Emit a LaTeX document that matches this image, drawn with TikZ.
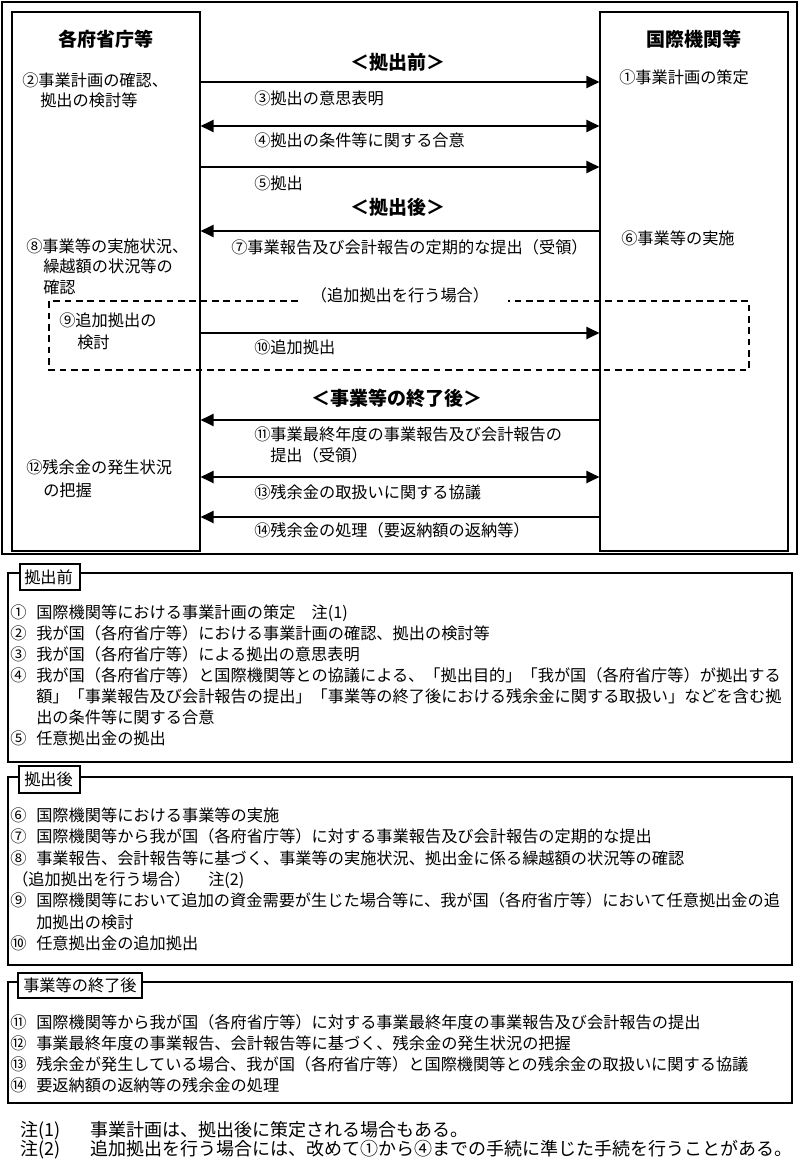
\documentclass[tikz,border=0pt]{standalone}
\usepackage{fontspec}
\setmainfont{Noto Sans CJK JP}
\usetikzlibrary{arrows.meta,fit}
\newcommand\fsz[1]{\fontsize{#1}{#1}\selectfont}
\newcommand\nb[1]{\makebox[19.5pt][l]{#1}}
\newcommand\cn[1]{\makebox[1em][c]{#1}}
\begin{document}
\begin{tikzpicture}[x=0.75pt,y=-0.75pt,
  txt/.style={inner sep=0pt, anchor=west, font=\fsz{12.15pt}, text height=10.7pt, text depth=1.45pt},
  ctxt/.style={inner sep=0pt, font=\fsz{12.15pt}, text height=10.7pt, text depth=1.45pt},
  head/.style={inner sep=0pt, font=\fsz{14.25pt}\bfseries, text height=12.5pt, text depth=1.75pt},
  note/.style={inner sep=0pt, anchor=west, font=\fsz{13.5pt}, text height=11.9pt, text depth=1.6pt},
  col/.style={draw, line width=0.8pt, inner sep=0pt},
  sect/.style={draw, line width=1.5pt, inner sep=0pt},
  tabbox/.style={draw, line width=1.5pt, fill=white, inner sep=0pt},
  arr/.style={line width=1.5pt, -{Triangle[length=9.75pt,width=9pt]}},
  darr/.style={line width=1.5pt, {Triangle[length=9.75pt,width=9pt]}-{Triangle[length=9.75pt,width=9pt]}},
  dashbox/.style={line width=1.2pt, dash pattern=on 5pt off 3.5pt},
]
\useasboundingbox (0,0) rectangle (800,1162);
% ---------- upper diagram ----------
\node[draw, line width=1.6pt, inner sep=0pt, fit={(2,2)(797,554)}] (frame) {};
\node[col, fit={(12,12)(200,551)}] (L) {};
\node[col, fit={(600,12)(788,551)}] (R) {};
\node[head] (hL) at (106,39) {各府省庁等};
\node[head] (hR) at (694,39) {国際機関等};
\node[head] (p1) at (398,62) {＜拠出前＞};
\node[head] (p2) at (398,207) {＜拠出後＞};
\node[head] (p3) at (397,398) {＜事業等の終了後＞};
% arrows
\draw[arr]  (L.east |- 0,82)  -- (R.west |- 0,82);
\draw[darr] (L.east |- 0,126) -- (R.west |- 0,126);
\draw[arr]  (L.east |- 0,167) -- (R.west |- 0,167);
\draw[arr]  (R.west |- 0,231) -- (L.east |- 0,231);
\draw[arr]  (L.east |- 0,333) -- (R.west |- 0,333);
\draw[arr]  (R.west |- 0,420) -- (L.east |- 0,420);
\draw[darr] (L.east |- 0,477) -- (R.west |- 0,477);
\draw[arr]  (R.west |- 0,517) -- (L.east |- 0,517);
% labels
\node[txt] (l2a) at (22,80) {\cn{②}事業計画の確認、};
\node[txt] (l2b) at (40,100) {拠出の検討等};
\node[txt] (l1) at (619,77) {\cn{①}事業計画の策定};
\node[txt] (l3) at (254,98) {\cn{③}拠出の意思表明};
\node[txt] (l4) at (254,140) {\cn{④}拠出の条件等に関する合意};
\node[txt] (l5) at (254,183) {\cn{⑤}拠出};
\node[txt] (l7) at (231,247) {\cn{⑦}事業報告及び会計報告の定期的な提出（受領）};
\node[txt] (l6) at (621,238) {\cn{⑥}事業等の実施};
\node[txt] (l8a) at (26,246) {\cn{⑧}事業等の実施状況、};
\node[txt] (l8b) at (43,266) {繰越額の状況等の};
\node[txt] (l8c) at (43,287) {確認};
\node[ctxt] (ladd) at (400,295) {（追加拠出を行う場合）};
\draw[dashbox] (298,301) -- (49,301) -- (49,370) -- (749,370) -- (749,301) -- (508,301);
\node[txt] (l9a) at (59,320) {\cn{⑨}追加拠出の};
\node[txt] (l9b) at (77,342) {検討};
\node[txt] (l10) at (254,347) {\cn{⑩}追加拠出};
\node[txt] (l11a) at (254,434) {\cn{⑪}事業最終年度の事業報告及び会計報告の};
\node[txt] (l11b) at (270,455) {提出（受領）};
\node[txt] (l12a) at (26,467) {\cn{⑫}残余金の発生状況};
\node[txt] (l12b) at (43,490) {の把握};
\node[txt] (l13) at (254,492) {\cn{⑬}残余金の取扱いに関する協議};
\node[txt] (l14) at (254,530) {\cn{⑭}残余金の処理（要返納額の返納等）};
% ---------- section 1 ----------
\node[sect, fit={(8,573)(792,762)}] (S1) {};
\node[tabbox, fit={(20,564)(80,590)}] (T1) {};
\node[txt] (T1t) at (24,577) {拠出前};
\node[txt] (a1) at (10,612) {\nb{①}国際機関等における事業計画の策定\hspace{1em}注(1)};
\node[txt] (a2) at (10,633) {\nb{②}我が国（各府省庁等）における事業計画の確認、拠出の検討等};
\node[txt] (a3) at (10,654) {\nb{③}我が国（各府省庁等）による拠出の意思表明};
\node[txt] (a4a) at (10,675) {\nb{④}我が国（各府省庁等）と国際機関等との協議による、「拠出目的」「我が国（各府省庁等）が拠出する};
\node[txt] (a4b) at (36,696) {額」「事業報告及び会計報告の提出」「事業等の終了後における残余金に関する取扱い」などを含む拠};
\node[txt] (a4c) at (36,717) {出の条件等に関する合意};
\node[txt] (a5) at (10,738) {\nb{⑤}任意拠出金の拠出};
% ---------- section 2 ----------
\node[sect, fit={(8,777)(792,965)}] (S2) {};
\node[tabbox, fit={(19,766)(80,793)}] (T2) {};
\node[txt] (T2t) at (24,779.5) {拠出後};
\node[txt] (b6) at (10,815) {\nb{⑥}国際機関等における事業等の実施};
\node[txt] (b7) at (10,836) {\nb{⑦}国際機関等から我が国（各府省庁等）に対する事業報告及び会計報告の定期的な提出};
\node[txt] (b8) at (10,858) {\nb{⑧}事業報告、会計報告等に基づく、事業等の実施状況、拠出金に係る繰越額の状況等の確認};
\node[txt] (bx) at (12,879) {（追加拠出を行う場合）\hspace{1.1em}注(2)};
\node[txt] (b9a) at (10,900) {\nb{⑨}国際機関等において追加の資金需要が生じた場合等に、我が国（各府省庁等）において任意拠出金の追};
\node[txt] (b9b) at (36,922) {加拠出の検討};
\node[txt] (b10) at (10,943) {\nb{⑩}任意拠出金の追加拠出};
% ---------- section 3 ----------
\node[sect, fit={(8,982)(792,1103)}] (S3) {};
\node[tabbox, fit={(18,973)(142,998)}] (T3) {};
\node[txt] (T3t) at (23,985.5) {事業等の終了後};
\node[txt] (c11) at (10,1022) {\nb{⑪}国際機関等から我が国（各府省庁等）に対する事業最終年度の事業報告及び会計報告の提出};
\node[txt] (c12) at (10,1043) {\nb{⑫}事業最終年度の事業報告、会計報告等に基づく、残余金の発生状況の把握};
\node[txt] (c13) at (10,1064) {\nb{⑬}残余金が発生している場合、我が国（各府省庁等）と国際機関等との残余金の取扱いに関する協議};
\node[txt] (c14) at (10,1085) {\nb{⑭}要返納額の返納等の残余金の処理};
% ---------- notes ----------
\node[note] (n1) at (20,1130) {注(1)};
\node[note] (n1t) at (90,1130) {事業計画は、拠出後に策定される場合もある。};
\node[note] (n2) at (20,1149) {注(2)};
\node[note] (n2t) at (90,1149) {追加拠出を行う場合には、改めて\cn{①}から\cn{④}までの手続に準じた手続を行うことがある。};
\end{tikzpicture}
\end{document}
